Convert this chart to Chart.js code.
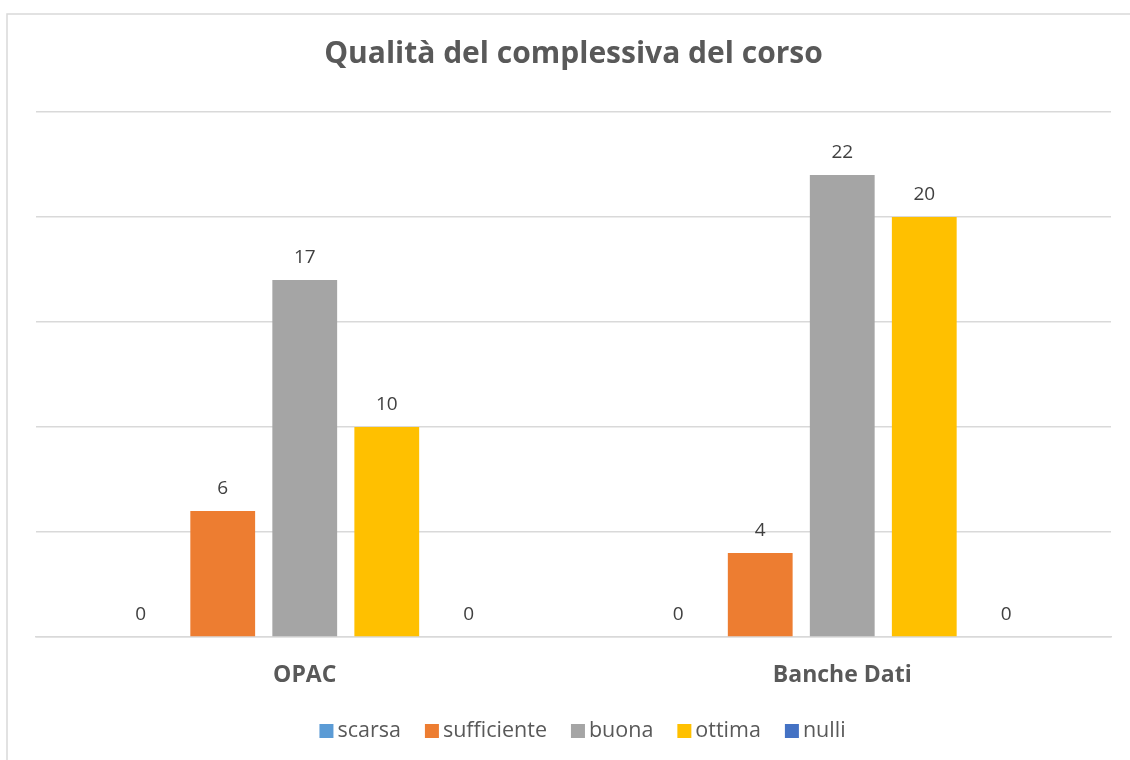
<!DOCTYPE html>
<html><head><meta charset="utf-8">
<script src="https://cdn.jsdelivr.net/npm/chart.js@4"></script>
<style>html,body{margin:0;padding:0;background:#fff;}#wrap{width:1130px;height:760px;position:relative;}</style>
</head><body><div id="wrap"><canvas id="c" width="1130" height="760"></canvas></div>
<script>
const titleText = "Qualità del complessiva del corso";
const categories = ["OPAC", "Banche Dati"];
const seriesNames = ["scarsa", "sufficiente", "buona", "ottima", "nulli"];
const scarsa = [0, 0];
const sufficiente = [6, 4];
const buona = [17, 22];
const ottima = [10, 20];
const nulli = [0, 0];
const seriesColors = ["#5B9BD5", "#ED7D31", "#A5A5A5", "#FFC000", "#4472C4"];
const yTicks = [0, 5, 10, 15, 20, 25];

const FONT = "'Open Sans', Lato, sans-serif";
const seriesData = [scarsa, sufficiente, buona, ottima, nulli];

const frame = {
  id: 'frame',
  beforeDraw(chart) {
    const ctx = chart.ctx;
    ctx.save();
    ctx.fillStyle = '#fff';
    ctx.fillRect(0, 0, chart.width, chart.height);
    ctx.strokeStyle = '#d9d9d9';
    ctx.lineWidth = 1.5;
    ctx.beginPath();
    ctx.moveTo(7, 800);
    ctx.lineTo(7, 14);
    ctx.lineTo(1200, 14);
    ctx.stroke();
    ctx.restore();
  }
};

const labels = {
  id: 'vlabels',
  afterDatasetsDraw(chart) {
    const ctx = chart.ctx;
    ctx.save();
    ctx.font = "19px " + FONT;
    ctx.fillStyle = '#404040';
    ctx.textAlign = 'center';
    ctx.textBaseline = 'alphabetic';
    chart.data.datasets.forEach((ds, i) => {
      const meta = chart.getDatasetMeta(i);
      meta.data.forEach((bar, j) => {
        ctx.fillText(String(ds.data[j]), bar.x, bar.y - 17);
      });
    });
    ctx.restore();
  }
};

const legendPlugin = {
  id: 'customLegend',
  afterDraw(chart) {
    const ctx = chart.ctx;
    ctx.save();
    ctx.font = "21.5px " + FONT;
    const box = 14, gapBoxText = 4, gapItem = 24;
    const items = chart.data.datasets.map(ds => ({ label: ds.label, color: ds.backgroundColor, w: ctx.measureText(ds.label).width }));
    let total = 0;
    items.forEach((it, i) => { total += box + gapBoxText + it.w + (i < items.length - 1 ? gapItem : 0); });
    const ca = chart.chartArea;
    let x = (ca.left + ca.right) / 2 + 9 - total / 2;
    const cy = 731;
    ctx.textBaseline = 'middle';
    ctx.textAlign = 'left';
    items.forEach(it => {
      ctx.fillStyle = it.color;
      ctx.fillRect(x, cy - box / 2, box, box);
      x += box + gapBoxText;
      ctx.fillStyle = '#595959';
      ctx.fillText(it.label, x, cy);
      x += it.w + gapItem;
    });
    ctx.restore();
  }
};

new Chart(document.getElementById('c'), {
  type: 'bar',
  data: {
    labels: categories,
    datasets: seriesNames.map((n, i) => ({
      label: n,
      data: seriesData[i],
      backgroundColor: seriesColors[i],
      borderWidth: 0,
      categoryPercentage: 0.763,
      barPercentage: 0.79
    }))
  },
  options: {
    responsive: false,
    animation: false,
    devicePixelRatio: 1,
    layout: { padding: { left: 36, right: 19, top: 0, bottom: 0 } },
    plugins: {
      title: {
        display: true,
        text: titleText,
        color: '#595959',
        font: { family: FONT, size: 30, weight: 'bold' },
        padding: { top: 36, bottom: 40 }
      },
      legend: { display: false },
      tooltip: { enabled: false }
    },
    scales: {
      x: {
        grid: { display: false, drawTicks: false },
        border: { display: true, color: '#d9d9d9', width: 1.5 },
        ticks: {
          color: '#595959',
          font: { family: FONT, size: 23, weight: 'bold' },
          padding: 25
        },
        afterFit(axis) { axis.height = 123; }
      },
      y: {
        min: 0,
        max: 25,
        afterBuildTicks(axis) { axis.ticks = yTicks.map(v => ({ value: v })); },
        grid: { color: '#d9d9d9', lineWidth: 1.5, drawTicks: false },
        border: { display: false },
        ticks: { display: false },
        afterFit(axis) { axis.width = 0; }
      }
    }
  },
  plugins: [frame, labels, legendPlugin]
});
</script>
</body></html>
